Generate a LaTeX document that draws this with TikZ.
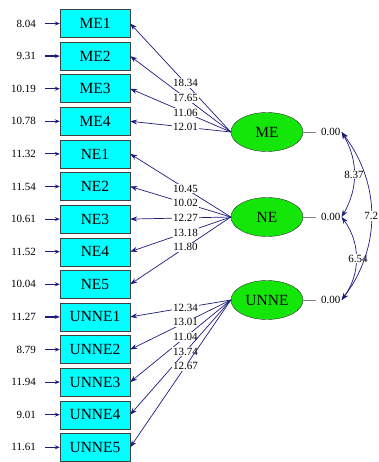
\documentclass[tikz,border=0pt]{standalone}
\usepackage{fontspec}
\setmainfont{Liberation Serif}
\usetikzlibrary{arrows.meta,shapes.geometric}

\definecolor{pathblue}{RGB}{28,28,125}
\definecolor{boxcyan}{RGB}{0,255,255}
\definecolor{latgreen}{RGB}{20,230,10}

\begin{document}
\begin{tikzpicture}
  [x=1pt, y=-1pt,
   obs/.style={draw=black!75, fill=boxcyan, minimum width=70pt, minimum height=28pt,
               inner sep=0pt, font=\fontsize{15.5}{15.5}\selectfont},
   lat/.style={ellipse, draw=black!80, fill=latgreen, minimum width=72pt, minimum height=39pt,
               inner sep=0pt, font=\fontsize{15.5}{15.5}\selectfont},
   num/.style={inner sep=1pt, font=\fontsize{11}{11}\selectfont},
   load/.style={draw=pathblue, line width=0.7pt, -{Stealth[length=7pt,width=5pt]}},
   errarr/.style={draw=pathblue, line width=1.2pt, -{Stealth[length=5pt,width=4pt]}},
   cov/.style={draw=pathblue, line width=0.7pt, {Stealth[length=7pt,width=5pt]}-{Stealth[length=7pt,width=5pt]}}]
  \useasboundingbox (0,0) rectangle (378,462);

  % indicators with error variances
  \foreach \n/\t/\e [count=\i from 0] in
    {me1/ME1/8.04, me2/ME2/9.31, me3/ME3/10.19, me4/ME4/10.78,
     ne1/NE1/11.32, ne2/NE2/11.54, ne3/NE3/10.61, ne4/NE4/11.52, ne5/NE5/10.04,
     un1/UNNE1/11.27, un2/UNNE2/8.79, un3/UNNE3/11.94, un4/UNNE4/9.01, un5/UNNE5/11.61}
  {
    \node[obs] (\n) at (95, 23.5+32.6*\i) {\t};
    \node[num, anchor=east] (e\n) at (37, 23.5+32.6*\i) {\e};
    \draw[errarr, shorten <=8pt] (e\n) -- (\n);
  }

  % latent variables
  \node[lat] (ME) at (267,132) {ME};
  \node[lat] (NE) at (267,217) {NE};
  \node[lat] (UNNE) at (267,300) {UNNE};

  % loadings
  \foreach \l/\n/\v in
    {ME/me1/18.34, ME/me2/17.65, ME/me3/11.06, ME/me4/12.01,
     NE/ne1/10.45, NE/ne2/10.02, NE/ne3/12.27, NE/ne4/13.18, NE/ne5/11.80,
     UNNE/un1/12.34, UNNE/un2/13.01, UNNE/un3/11.04, UNNE/un4/13.74, UNNE/un5/12.67}
    \draw[load] (\l.west) -- node[num, fill=white, pos=0.45] {\v} (\n.east);

  % factor variances
  \foreach \l/\y in {ME/132, NE/217, UNNE/300}
  {
    \node[num, anchor=west] (v\l) at (320,\y) {0.00};
    \draw[gray] (\l.east) -- ([xshift=-4pt]v\l.west);
  }

  % covariances
  \draw[cov] (vME.east) to[bend left=30] node[num, fill=white] {8.37} (vNE.east);
  \draw[cov] (vNE.east) to[bend left=36] node[num, fill=white, xshift=2pt] {6.54} (vUNNE.east);
  \draw[cov] (vME.east) to[bend left=37] node[num, fill=white] {7.2} (vUNNE.east);
\end{tikzpicture}
\end{document}
